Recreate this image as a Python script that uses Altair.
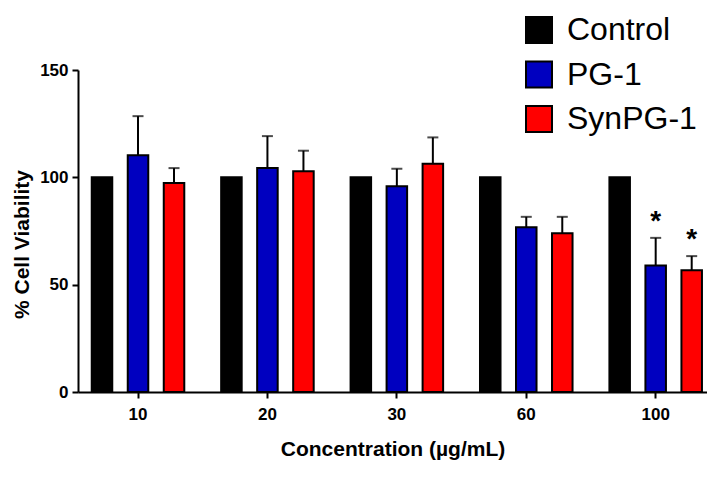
import altair as alt
import pandas as pd

concentrations = ["10", "20", "30", "60", "100"]
groups = ["Control", "PG-1", "SynPG-1"]
control_mean = [100, 100, 100, 100, 100]
pg1_mean = [110.3, 104.3, 95.9, 76.7, 58.9]
pg1_sd = [18.2, 14.9, 8.1, 4.9, 12.9]
syn_mean = [97.4, 102.8, 106.3, 73.9, 56.7]
syn_sd = [6.9, 9.6, 12.3, 7.7, 6.6]
significant = [
    ("100", "PG-1"),
    ("100", "SynPG-1"),
]
colors = ["#000000", "#0000C0", "#FF0000"]

FONT = "Liberation Sans"

rows = []
for i, c in enumerate(concentrations):
    rows.append({"conc": c, "group": "Control", "mean": control_mean[i], "top": control_mean[i], "sd": 0})
    rows.append({"conc": c, "group": "PG-1", "mean": pg1_mean[i], "top": pg1_mean[i] + pg1_sd[i], "sd": pg1_sd[i]})
    rows.append({"conc": c, "group": "SynPG-1", "mean": syn_mean[i], "top": syn_mean[i] + syn_sd[i], "sd": syn_sd[i]})
df = pd.DataFrame(rows)
err = df[df["sd"] > 0]
stars = df[[(r.conc, r.group) in significant for r in df.itertuples()]].assign(label="*")

xenc = alt.X(
    "conc:N",
    sort=concentrations,
    scale=alt.Scale(paddingInner=0.207, paddingOuter=0.0336, align=1),
    axis=alt.Axis(
        title="Concentration (\u00b5g/mL)",
        grid=False,
        labelAngle=0,
        labelFont=FONT,
        labelFontSize=17,
        labelFontWeight="bold",
        labelColor="black",
        labelPadding=8,
        tickSize=6,
        tickWidth=2,
        tickColor="black",
        domainWidth=2,
        domainColor="black",
        titleFont=FONT,
        titleFontSize=21,
        titleFontWeight="bold",
        titleColor="black",
        titleY=63.5,
        titleBaseline="alphabetic",
    ),
)
xoff = alt.XOffset(
    "group:N",
    sort=groups,
    scale=alt.Scale(domain=groups, paddingInner=0.43, paddingOuter=0.14),
)
yscale = alt.Scale(domain=[0, 150], nice=False)

bars = alt.Chart(df).mark_bar(stroke="black", strokeWidth=2).encode(
    x=xenc,
    xOffset=xoff,
    y=alt.Y(
        "mean:Q",
        scale=yscale,
        axis=alt.Axis(
            title="% Cell Viability",
            values=[0, 50, 100, 150],
            grid=False,
            labelFont=FONT,
            labelFontSize=17,
            labelFontWeight="bold",
            labelColor="black",
            labelPadding=4,
            tickSize=6,
            tickWidth=2,
            tickColor="black",
            domainWidth=2,
            domainColor="black",
            titleFont=FONT,
            titleFontSize=21,
            titleFontWeight="bold",
            titleColor="black",
            titleX=-50,
            titleY=174,
            titleAlign="center",
            titleBaseline="alphabetic",
            titleAngle=270,
        ),
    ),
    color=alt.Color(
        "group:N",
        sort=groups,
        scale=alt.Scale(domain=groups, range=colors),
        legend=alt.Legend(
            title=None,
            orient="none",
            legendX=445,
            legendY=-56,
            symbolType="square",
            symbolSize=676,
            symbolStrokeColor="black",
            symbolStrokeWidth=2,
            symbolOpacity=1,
            labelFont=FONT,
            labelFontSize=32,
            labelColor="black",
            labelOffset=12,
            rowPadding=10.5,
            padding=0,
        ),
    ),
)

rules = alt.Chart(err).mark_rule(color="black", strokeWidth=2).encode(
    x=alt.X("conc:N", sort=concentrations),
    xOffset=xoff,
    y=alt.Y("mean:Q", scale=yscale),
    y2="top:Q",
)

caps = alt.Chart(err).mark_tick(color="black", size=11, thickness=2, orient="horizontal").encode(
    x=alt.X("conc:N", sort=concentrations),
    xOffset=xoff,
    y=alt.Y("top:Q", scale=yscale),
)

star_text = alt.Chart(stars).mark_text(
    font=FONT, fontSize=28, fontWeight="bold", color="black", baseline="alphabetic", dy=-8
).encode(
    x=alt.X("conc:N", sort=concentrations),
    xOffset=xoff,
    y=alt.Y("top:Q", scale=yscale),
    text="label:N",
)

chart = (
    alt.layer(bars, rules, caps, star_text)
    .properties(
        width=629,
        height=322,
        background="white",
        autosize=alt.AutoSizeParams(type="none"),
        padding={"left": 70, "top": 62, "right": 0, "bottom": 71},
    )
    .configure_axis(grid=False)
    .configure_view(stroke="transparent", strokeWidth=0)
)

chart.save("out.html", embed_options={"renderer": "svg", "actions": False})
